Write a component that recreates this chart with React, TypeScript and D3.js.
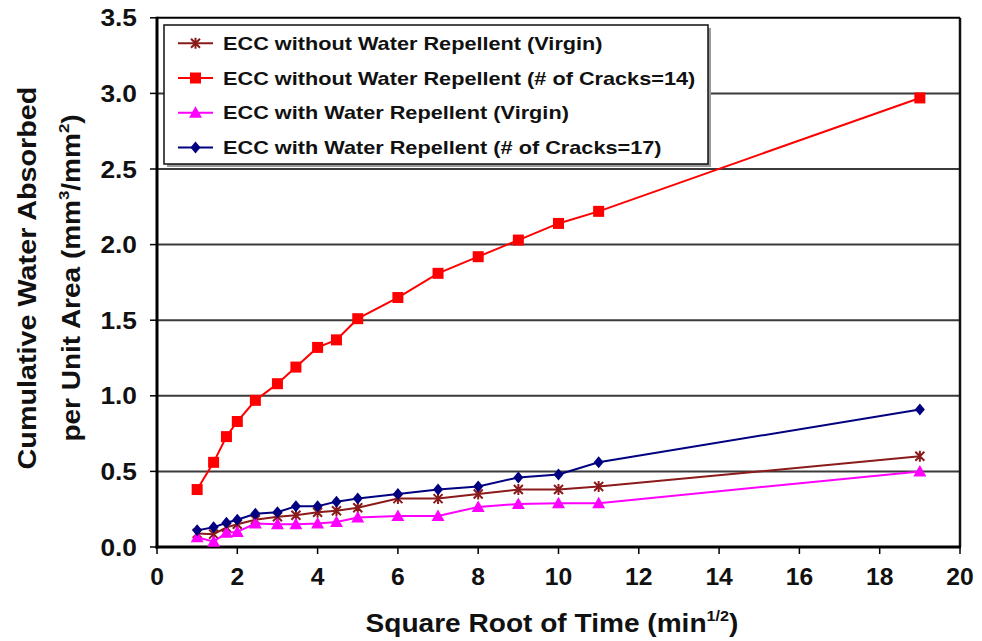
import React from "react";
import * as d3 from "d3";

// Square root of elapsed time (min^1/2)
const sqrtTime = [1, 1.41, 1.73, 2, 2.45, 3, 3.46, 4, 4.47, 5, 6, 7, 8, 9, 10, 11, 19];

// Cumulative water absorbed per unit area (mm3/mm2)
const noRepellentVirgin = [0.09, 0.085, 0.13, 0.15, 0.18, 0.2, 0.21, 0.23, 0.24, 0.26, 0.32, 0.32, 0.35, 0.38, 0.38, 0.4, 0.6];
const noRepellentCracked = [0.38, 0.56, 0.73, 0.83, 0.97, 1.08, 1.19, 1.32, 1.37, 1.51, 1.65, 1.81, 1.92, 2.03, 2.14, 2.22, 2.97];
const repellentVirgin = [0.065, 0.035, 0.095, 0.1, 0.155, 0.15, 0.15, 0.155, 0.165, 0.195, 0.205, 0.205, 0.265, 0.285, 0.29, 0.29, 0.5];
const repellentCracked = [0.11, 0.13, 0.16, 0.18, 0.22, 0.23, 0.27, 0.27, 0.3, 0.32, 0.35, 0.38, 0.4, 0.46, 0.48, 0.56, 0.91];

const seriesNames = [
  "ECC without Water Repellent (Virgin)",
  "ECC without Water Repellent (# of Cracks=14)",
  "ECC with Water Repellent (Virgin)",
  "ECC with Water Repellent (# of Cracks=17)",
];

const xTicks = [0, 2, 4, 6, 8, 10, 12, 14, 16, 18, 20];
const yTicks = [0, 0.5, 1, 1.5, 2, 2.5, 3, 3.5];

type MarkerKind = "star" | "square" | "triangle" | "diamond";

const series: { name: string; values: number[]; color: string; marker: MarkerKind }[] = [
  { name: seriesNames[0], values: noRepellentVirgin, color: "#8B1A1A", marker: "star" },
  { name: seriesNames[1], values: noRepellentCracked, color: "#FF0000", marker: "square" },
  { name: seriesNames[2], values: repellentVirgin, color: "#FF00FF", marker: "triangle" },
  { name: seriesNames[3], values: repellentCracked, color: "#000080", marker: "diamond" },
];

const W = 982;
const H = 641;
const FONT = "'Liberation Sans', Arial, Helvetica, sans-serif";

const x = d3.scaleLinear().domain([0, 20]).range([157, 960]);
const y = d3.scaleLinear().domain([0, 3.5]).range([547, 17.8]);

function Marker({ kind, color, cx, cy }: { kind: MarkerKind; color: string; cx: number; cy: number }) {
  const t = `translate(${cx},${cy})`;
  if (kind === "square") return <rect transform={t} x={-5.5} y={-5.5} width={11} height={11} fill={color} />;
  if (kind === "diamond") return <path transform={t} d="M0,-6L5,0L0,6L-5,0Z" fill={color} />;
  if (kind === "triangle") return <path transform={t} d="M0,-6.5L6.5,5L-6.5,5Z" fill={color} />;
  return (
    <path
      transform={t}
      d="M-4.5,-4.5L4.5,4.5M-4.5,4.5L4.5,-4.5M0,-5.5L0,5.5"
      stroke={color}
      strokeWidth={2}
      fill="none"
    />
  );
}

export default function App() {
  const line = d3
    .line<number>()
    .x((_, i) => x(sqrtTime[i]))
    .y((v) => y(v));

  const left = x(0);
  const right = x(20);
  const top = y(3.5);
  const bottom = y(0);

  return (
    <svg
      width={W}
      height={H}
      viewBox={`0 0 ${W} ${H}`}
      style={{ position: "absolute", left: 0, top: 0, background: "#fff" }}
      fontFamily={FONT}
      fontWeight="bold"
    >
      <rect width={W} height={H} fill="#fff" />

      {/* horizontal gridlines */}
      {yTicks.slice(1).map((t) => (
        <line key={`g${t}`} x1={left} x2={right} y1={y(t)} y2={y(t)} stroke={t === 3.5 ? "#000" : "#3a3a3a"} strokeWidth={2} />
      ))}
      {/* right border of the plot area */}
      <line x1={right} x2={right} y1={top} y2={bottom} stroke="#111" strokeWidth={2.5} />

      {/* axes */}
      <line x1={left} x2={left} y1={top - 1} y2={bottom + 1.5} stroke="#000" strokeWidth={3} />
      <line x1={left - 1.5} x2={right + 1} y1={bottom} y2={bottom} stroke="#000" strokeWidth={3} />
      {yTicks.map((t) => (
        <line key={`yt${t}`} x1={left - 7} x2={left} y1={y(t)} y2={y(t)} stroke="#000" strokeWidth={1.5} />
      ))}
      {xTicks.map((t) => (
        <line key={`xt${t}`} x1={x(t)} x2={x(t)} y1={bottom} y2={bottom + 7} stroke="#000" strokeWidth={1.5} />
      ))}

      {/* tick labels */}
      {yTicks.map((t) => (
        <text
          key={`yl${t}`}
          transform={`translate(137,${y(t) + 8.5}) scale(1.12,1)`}
          textAnchor="end"
          fontSize={23.5}
          fill="#111"
        >
          {d3.format(".1f")(t)}
        </text>
      ))}
      {xTicks.map((t) => (
        <text
          key={`xl${t}`}
          transform={`translate(${x(t)},585) scale(1.05,1)`}
          textAnchor="middle"
          fontSize={23.5}
          fill="#111"
        >
          {t}
        </text>
      ))}

      {/* axis titles */}
      <text transform="translate(552,632) scale(1.08,1)" textAnchor="middle" fontSize={26} fill="#111">
        Square Root of Time (min
        <tspan fontSize={15} dy={-11}>1/2</tspan>
        <tspan dy={11}>)</tspan>
      </text>
      <text transform="translate(36,278) rotate(-90) scale(1.15,1)" textAnchor="middle" fontSize={25} fill="#111">
        Cumulative Water Absorbed
      </text>
      <text transform="translate(80,278) rotate(-90) scale(1.12,1)" textAnchor="middle" fontSize={25} fill="#111">
        per Unit Area (mm
        <tspan fontSize={15} dy={-11}>3</tspan>
        <tspan dy={11}>/mm</tspan>
        <tspan fontSize={15} dy={-11}>2</tspan>
        <tspan dy={11}>)</tspan>
      </text>

      {/* data series */}
      {series.map((s) => (
        <g key={s.name}>
          <path d={line(s.values) ?? ""} fill="none" stroke={s.color} strokeWidth={2} />
          {s.values.map((v, i) => (
            <Marker key={i} kind={s.marker} color={s.color} cx={x(sqrtTime[i])} cy={y(v)} />
          ))}
        </g>
      ))}

      {/* legend */}
      <g>
        <rect x={167} y={28} width={544} height={139} fill="#9a9a9a" />
        <rect x={164} y={25} width={544} height={139} fill="#fff" stroke="#111" strokeWidth={1.5} />
        {series.map((s, i) => {
          const cy = 43.3 + i * 34.7;
          return (
            <g key={`lg${i}`}>
              <line x1={178} x2={213} y1={cy} y2={cy} stroke={s.color} strokeWidth={2} />
              <Marker kind={s.marker} color={s.color} cx={195.5} cy={cy} />
              <text transform={`translate(223,${cy + 6.5}) scale(1.24,1)`} fontSize={17.5} fill="#111">
                {s.name}
              </text>
            </g>
          );
        })}
      </g>
    </svg>
  );
}
